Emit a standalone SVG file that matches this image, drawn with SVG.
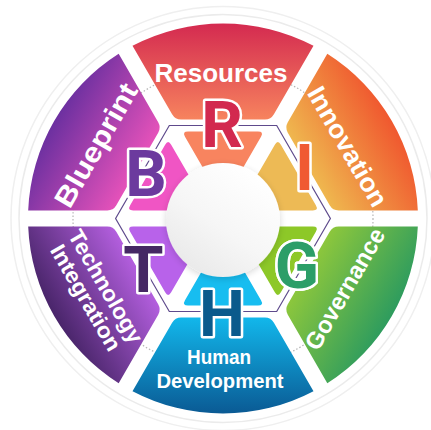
<svg xmlns="http://www.w3.org/2000/svg" width="431" height="430" viewBox="0 0 431 430">
<defs>
<linearGradient id="gR" gradientUnits="userSpaceOnUse" x1="0" y1="-98" x2="0" y2="-195"><stop offset="0" stop-color="#f7845e"/><stop offset="1" stop-color="#d42a50"/></linearGradient>
<linearGradient id="gI" gradientUnits="userSpaceOnUse" x1="0" y1="-98" x2="0" y2="-195"><stop offset="0" stop-color="#efb84f"/><stop offset="1" stop-color="#f0582f"/></linearGradient>
<linearGradient id="gG" gradientUnits="userSpaceOnUse" x1="0" y1="-98" x2="0" y2="-195"><stop offset="0" stop-color="#8dc73c"/><stop offset="1" stop-color="#2e9c5e"/></linearGradient>
<linearGradient id="gH" gradientUnits="userSpaceOnUse" x1="0" y1="-98" x2="0" y2="-195"><stop offset="0" stop-color="#12b8ec"/><stop offset="1" stop-color="#0a5a94"/></linearGradient>
<linearGradient id="gT" gradientUnits="userSpaceOnUse" x1="0" y1="-98" x2="0" y2="-195"><stop offset="0" stop-color="#b45fdf"/><stop offset="1" stop-color="#49256a"/></linearGradient>
<linearGradient id="gB" gradientUnits="userSpaceOnUse" x1="0" y1="-98" x2="0" y2="-195"><stop offset="0" stop-color="#e652ba"/><stop offset="1" stop-color="#6c30a0"/></linearGradient>
<linearGradient id="gC" x1="0.8" y1="0.1" x2="0.2" y2="0.95"><stop offset="0" stop-color="#ffffff"/><stop offset="0.55" stop-color="#f6f6f6"/><stop offset="1" stop-color="#e9e9e9"/></linearGradient>
<filter id="sh" x="-40%" y="-40%" width="180%" height="180%">
<feGaussianBlur in="SourceAlpha" stdDeviation="3.5"/>
<feOffset dx="0" dy="2"/>
<feComponentTransfer><feFuncA type="linear" slope="0.16"/></feComponentTransfer>
<feMerge><feMergeNode/><feMergeNode in="SourceGraphic"/></feMerge>
</filter>
<path id="outer" d="M -90.5,-172.7 A 195 195 0 0 1 90.5,-172.7 L 50.9,-104.2 Q 47.9,-99 41.9,-99 L -41.9,-99 Q -47.9,-99 -50.9,-104.2 Z"/>
<path id="inner" d="M -35,-87 L 35,-87 Q 41,-87 38,-81.8 L 16.9,-45.2 Q 13.9,-40 7.9,-40 L -7.9,-40 Q -13.9,-40 -16.9,-45.2 L -38,-81.8 Q -41,-87 -35,-87 Z"/>
</defs>
<style>
.lbl{font-family:"Liberation Sans",Arial,sans-serif;font-weight:700;fill:#ffffff;text-anchor:middle}
.let{font-family:Roboto,"Liberation Sans",sans-serif;font-weight:700;font-size:65px;text-anchor:middle;stroke:#ffffff;stroke-width:5;paint-order:stroke;stroke-linejoin:round}
.ring{fill:none}
</style>
<rect width="431" height="430" fill="#ffffff"/>
<g id="backdrop">
<circle class="ring" cx="223" cy="218.5" r="212" stroke="#efefef" stroke-width="1.5"/>
<circle class="ring" cx="223" cy="218.5" r="204" stroke="#ebebeb" stroke-width="1.5"/>
<circle class="ring" cx="223" cy="218.5" r="150" stroke="#b5b5b5" stroke-width="1.2" stroke-dasharray="1.5 2"/>
</g>
<g id="connectors">
<polygon points="330.4,218.5 276.7,311.5 169.3,311.5 115.6,218.5 169.3,125.5 276.7,125.5" fill="none" stroke="#5e4a8c" stroke-width="1.2"/>
</g>
<g id="resources">
<g transform="translate(223 218.5)"><use href="#outer" fill="url(#gR)"/><use href="#inner" fill="#f8845f"/></g>
<text class="let" x="222" y="146.5" fill="#d2294f">R</text>
<text class="lbl" x="221" y="82" font-size="26" textLength="133" lengthAdjust="spacingAndGlyphs">Resources</text>
</g>
<g id="innovation">
<g transform="translate(223 218.5) rotate(60)"><use href="#outer" fill="url(#gI)"/><use href="#inner" fill="#edba55"/></g>
<text class="let" x="304.5" y="190" fill="#f05a32">I</text>
<text class="lbl" transform="translate(223 218.5) rotate(60)" x="0" y="-135" font-size="26" textLength="134" lengthAdjust="spacingAndGlyphs">Innovation</text>
</g>
<g id="governance">
<g transform="translate(223 218.5) rotate(120)"><use href="#outer" fill="url(#gG)"/><use href="#inner" fill="#8dc828"/></g>
<text class="let" x="297" y="288" fill="#2c9e68" stroke="#2c9e68" stroke-width="11">G</text>
<text class="let" x="297" y="288" fill="#2c9e68" stroke-width="4.5">G</text>
<text class="lbl" transform="translate(223 218.5) rotate(-60)" x="0" y="149" font-size="24" textLength="136" lengthAdjust="spacingAndGlyphs">Governance</text>
</g>
<g id="human-development">
<g transform="translate(223 218.5) rotate(180)"><use href="#outer" fill="url(#gH)"/><use href="#inner" fill="#17bdf0"/></g>
<text class="let" x="222" y="336" fill="#0a5a8c">H</text>
<text class="lbl" x="219" y="364" font-size="20" textLength="64" lengthAdjust="spacingAndGlyphs">Human</text>
<text class="lbl" x="220" y="388" font-size="20" textLength="127" lengthAdjust="spacingAndGlyphs">Development</text>
</g>
<g id="technology-integration">
<g transform="translate(223 218.5) rotate(240)"><use href="#outer" fill="url(#gT)"/><use href="#inner" fill="#b862ea"/></g>
<text class="let" x="143.5" y="292" fill="#452864">T</text>
<text class="lbl" transform="translate(223 218.5) rotate(60)" x="0" y="143" font-size="22" textLength="127" lengthAdjust="spacingAndGlyphs">Technology</text>
<text class="lbl" transform="translate(223 218.5) rotate(60)" x="0" y="166" font-size="22" textLength="119" lengthAdjust="spacingAndGlyphs">Integration</text>
</g>
<g id="blueprint">
<g transform="translate(223 218.5) rotate(300)"><use href="#outer" fill="url(#gB)"/><use href="#inner" fill="#f055c4"/></g>
<text class="let" x="146" y="195.5" fill="#6c3a9e">B</text>
<text class="lbl" transform="translate(223 218.5) rotate(-60)" x="0" y="-137" font-size="28" textLength="138" lengthAdjust="spacingAndGlyphs">Blueprint</text>
</g>
<g id="center">
<circle cx="223" cy="220" r="57" fill="url(#gC)" filter="url(#sh)"/>
</g>
</svg>
